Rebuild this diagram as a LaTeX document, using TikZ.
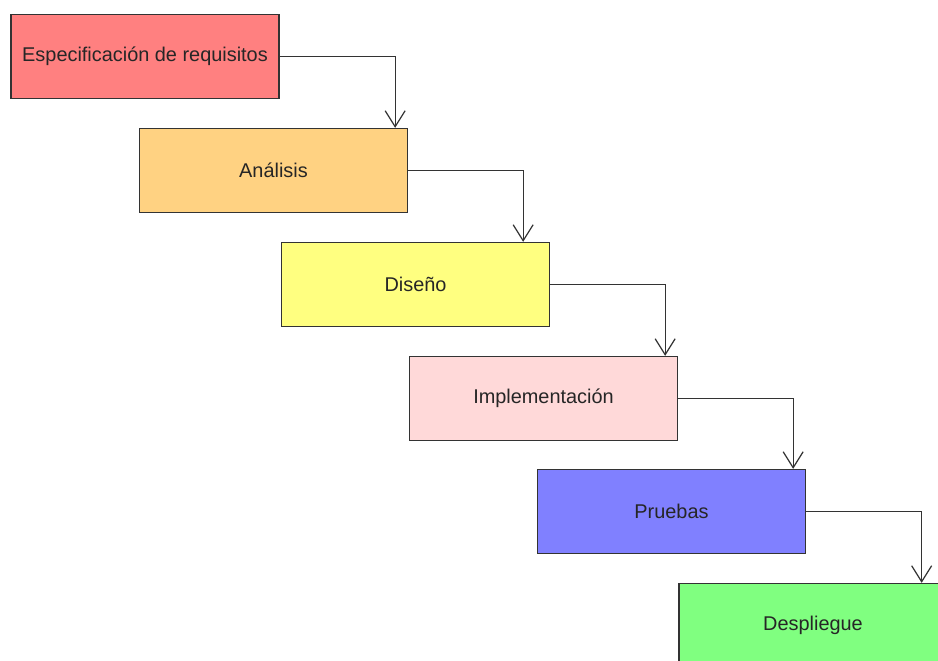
\documentclass[tikz,border=0pt]{standalone}
\usepackage{fontspec}
\setmainfont{Liberation Sans}
\usetikzlibrary{arrows.meta}
\definecolor{cReq}{HTML}{FF8080}
\definecolor{cAna}{HTML}{FFD282}
\definecolor{cDis}{HTML}{FFFF80}
\definecolor{cImp}{HTML}{FFD9D9}
\definecolor{cPru}{HTML}{8080FF}
\definecolor{cDes}{HTML}{80FF80}
\definecolor{cEdge}{HTML}{333333}
\tikzset{
  phase/.style={draw=cEdge, line width=1.3pt, minimum width=268pt, minimum height=84pt,
    inner sep=0pt, font=\fontsize{19.9}{23}\selectfont, text=black!85},
  flow/.style={draw=cEdge, line width=1.2pt,
    -{Straight Barb[length=16pt, width=20pt, line width=1.2pt]}}
}
\begin{document}
\begin{tikzpicture}[x=1pt, y=-1pt]
  \useasboundingbox (0,0) rectangle (938,661);
  \clip (0,0) rectangle (938,661);
  \fill[white] (0,0) rectangle (938,661);
  % waterfall phases
  \node[phase, fill=cReq] (req) at (145,56.5)    {Especificación de requisitos};
  \node[phase, fill=cAna] (ana) at (273.5,170.5) {Análisis};
  \node[phase, fill=cDis] (dis) at (415.5,284.5) {Diseño};
  \node[phase, fill=cImp] (imp) at (543.5,398.5) {Implementación};
  \node[phase, fill=cPru] (pru) at (671.5,511.5) {Pruebas};
  \node[phase, fill=cDes] (des) at (813,625.5)   {Despliegue};
  % transitions: out of the right side, down into the next phase
  \draw[flow] (req.east) -| ([xshift=-13pt]ana.north east);
  \draw[flow] (ana.east) -| ([xshift=-27pt]dis.north east);
  \draw[flow] (dis.east) -| ([xshift=-13pt]imp.north east);
  \draw[flow] (imp.east) -| ([xshift=-13pt]pru.north east);
  \draw[flow] (pru.east) -| ([xshift=-26pt]des.north east);
\end{tikzpicture}
\end{document}
